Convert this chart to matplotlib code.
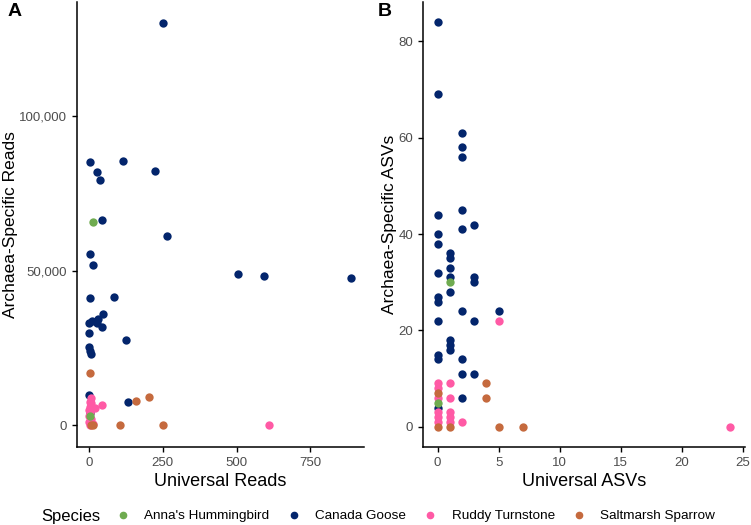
import numpy as np
import matplotlib.pyplot as plt
from matplotlib.ticker import FuncFormatter
from matplotlib.lines import Line2D

plt.rcParams['font.family'] = ['Liberation Sans', 'DejaVu Sans']

species = ["Anna's Hummingbird", "Canada Goose", "Ruddy Turnstone", "Saltmarsh Sparrow"]
colors = {"Anna's Hummingbird": '#6fab50', "Canada Goose": '#03256c',
          "Ruddy Turnstone": '#ff5aa5', "Saltmarsh Sparrow": '#c56a3e'}

# Panel A: universal reads vs archaea-specific reads
reads_goose_x = [251, 3, 115, 224, 27, 37, 44, 264, 3, 14, 505, 593, 888, 3, 85, 47, 30,
                 10, 0, 27, 44, 125, 0, 0, 3, 5, 0, 132, 2]
reads_goose_y = [130300, 85200, 85500, 82200, 81900, 79300, 66400, 61300, 55500, 51900,
                 49000, 48400, 47600, 41300, 41600, 36100, 34500, 33600, 32900, 33200,
                 31600, 27700, 29700, 25200, 23900, 22900, 9700, 7400, 4000]
reads_anna_x = [14, 2]
reads_anna_y = [65800, 3000]
reads_turn_x = [610, 44, 20, 5, 3, 2, 0, 3, 1, 5, 0, 8, 13, 2, 6]
reads_turn_y = [0, 6500, 5500, 8700, 7500, 6000, 5000, 4000, 3000, 2000, 1000, 500, 200, 0, 7000]
reads_spar_x = [3, 159, 203, 105, 251, 7, 12]
reads_spar_y = [16800, 7700, 9000, 0, 0, 0, 0]

# Panel B: universal ASVs vs archaea-specific ASVs
asv_goose_x = [0, 0, 2, 2, 2, 0, 2, 2, 3, 0, 0, 1, 1, 1, 0, 1, 3, 3, 1, 0, 0, 2, 5, 0,
               3, 1, 1, 1, 0, 0, 2, 2, 3, 2, 0]
asv_goose_y = [84, 69, 61, 58, 56, 44, 45, 41, 42, 40, 38, 36, 35, 33, 32, 31, 31, 30,
               28, 27, 26, 24, 24, 22, 22, 18, 17, 16, 15, 14, 14, 11, 11, 6, 4]
asv_anna_x = [1, 0]
asv_anna_y = [30, 5]
asv_turn_x = [5, 0, 0, 1, 0, 1, 0, 0, 0, 1, 1, 1, 2, 24]
asv_turn_y = [22, 9, 8, 9, 6, 6, 3, 2, 1, 3, 2, 1, 1, 0]
asv_spar_x = [4, 4, 0, 0, 1, 5, 7]
asv_spar_y = [9, 6, 7, 0, 0, 0, 0]

fig = plt.figure(figsize=(7.51, 5.25), dpi=100)
W, H = 751, 525
axA = fig.add_axes([77 / W, 1 - 447 / H, (364 - 77) / W, 445 / H])
axB = fig.add_axes([423 / W, 1 - 447 / H, (745 - 423) / W, 445 / H])

ms = 36
axA.scatter(reads_goose_x, reads_goose_y, s=ms, color=colors["Canada Goose"], linewidths=0, zorder=3)
axA.scatter(reads_turn_x, reads_turn_y, s=ms, color=colors["Ruddy Turnstone"], linewidths=0, zorder=3)
axA.scatter(reads_spar_x, reads_spar_y, s=ms, color=colors["Saltmarsh Sparrow"], linewidths=0, zorder=3)
axA.scatter(reads_anna_x, reads_anna_y, s=ms, color=colors["Anna's Hummingbird"], linewidths=0, zorder=3)

axB.scatter(asv_goose_x, asv_goose_y, s=ms, color=colors["Canada Goose"], linewidths=0, zorder=3)
axB.scatter(asv_turn_x, asv_turn_y, s=ms, color=colors["Ruddy Turnstone"], linewidths=0, zorder=3)
axB.scatter(asv_spar_x, asv_spar_y, s=ms, color=colors["Saltmarsh Sparrow"], linewidths=0, zorder=3)
axB.scatter(asv_anna_x, asv_anna_y, s=ms, color=colors["Anna's Hummingbird"], linewidths=0, zorder=3)

axA.set_xlim(-41, 932)
axA.set_ylim(-7100, 137000)
axA.set_xticks([0, 250, 500, 750])
axA.set_yticks([0, 50000, 100000])
axA.yaxis.set_major_formatter(FuncFormatter(lambda v, p: f'{int(v):,}'))
axA.set_xlabel('Universal Reads', fontsize=13)
axA.set_ylabel('Archaea-Specific Reads', fontsize=12.5)

axB.set_xlim(-1.2, 25.2)
axB.set_ylim(-4.2, 88.2)
axB.set_xticks([0, 5, 10, 15, 20, 25])
axB.set_yticks([0, 20, 40, 60, 80])
axB.set_xlabel('Universal ASVs', fontsize=13)
axB.set_ylabel('Archaea-Specific ASVs', fontsize=12.5)

for ax in (axA, axB):
    ax.spines['top'].set_visible(False)
    ax.spines['right'].set_visible(False)
    ax.spines['left'].set_linewidth(1.1)
    ax.spines['bottom'].set_linewidth(1.1)
    ax.tick_params(labelsize=9.5, labelcolor='#4d4d4d', length=3.5, width=1)
    ax.xaxis.labelpad = 3
    ax.yaxis.labelpad = 1

fig.text(8 / W, 1 - 12 / H, 'A', fontsize=14, fontweight='bold', va='center', ha='left')
fig.text(378 / W, 1 - 12 / H, 'B', fontsize=14, fontweight='bold', va='center', ha='left')

fig.text(41 / W, 1 - 516 / H, 'Species', fontsize=12, va='center', ha='left')
handles = [Line2D([], [], marker='o', linestyle='', markersize=4.5, color=colors[s]) for s in species]
fig.legend(handles, species, loc='center left', bbox_to_anchor=(114.7 / W, 1 - 516 / H),
           ncol=4, frameon=False, fontsize=9.7,
           handletextpad=0.99, columnspacing=1.2, borderaxespad=0, borderpad=0,
           handlelength=1.2)

fig.savefig('out.png', dpi=100)
